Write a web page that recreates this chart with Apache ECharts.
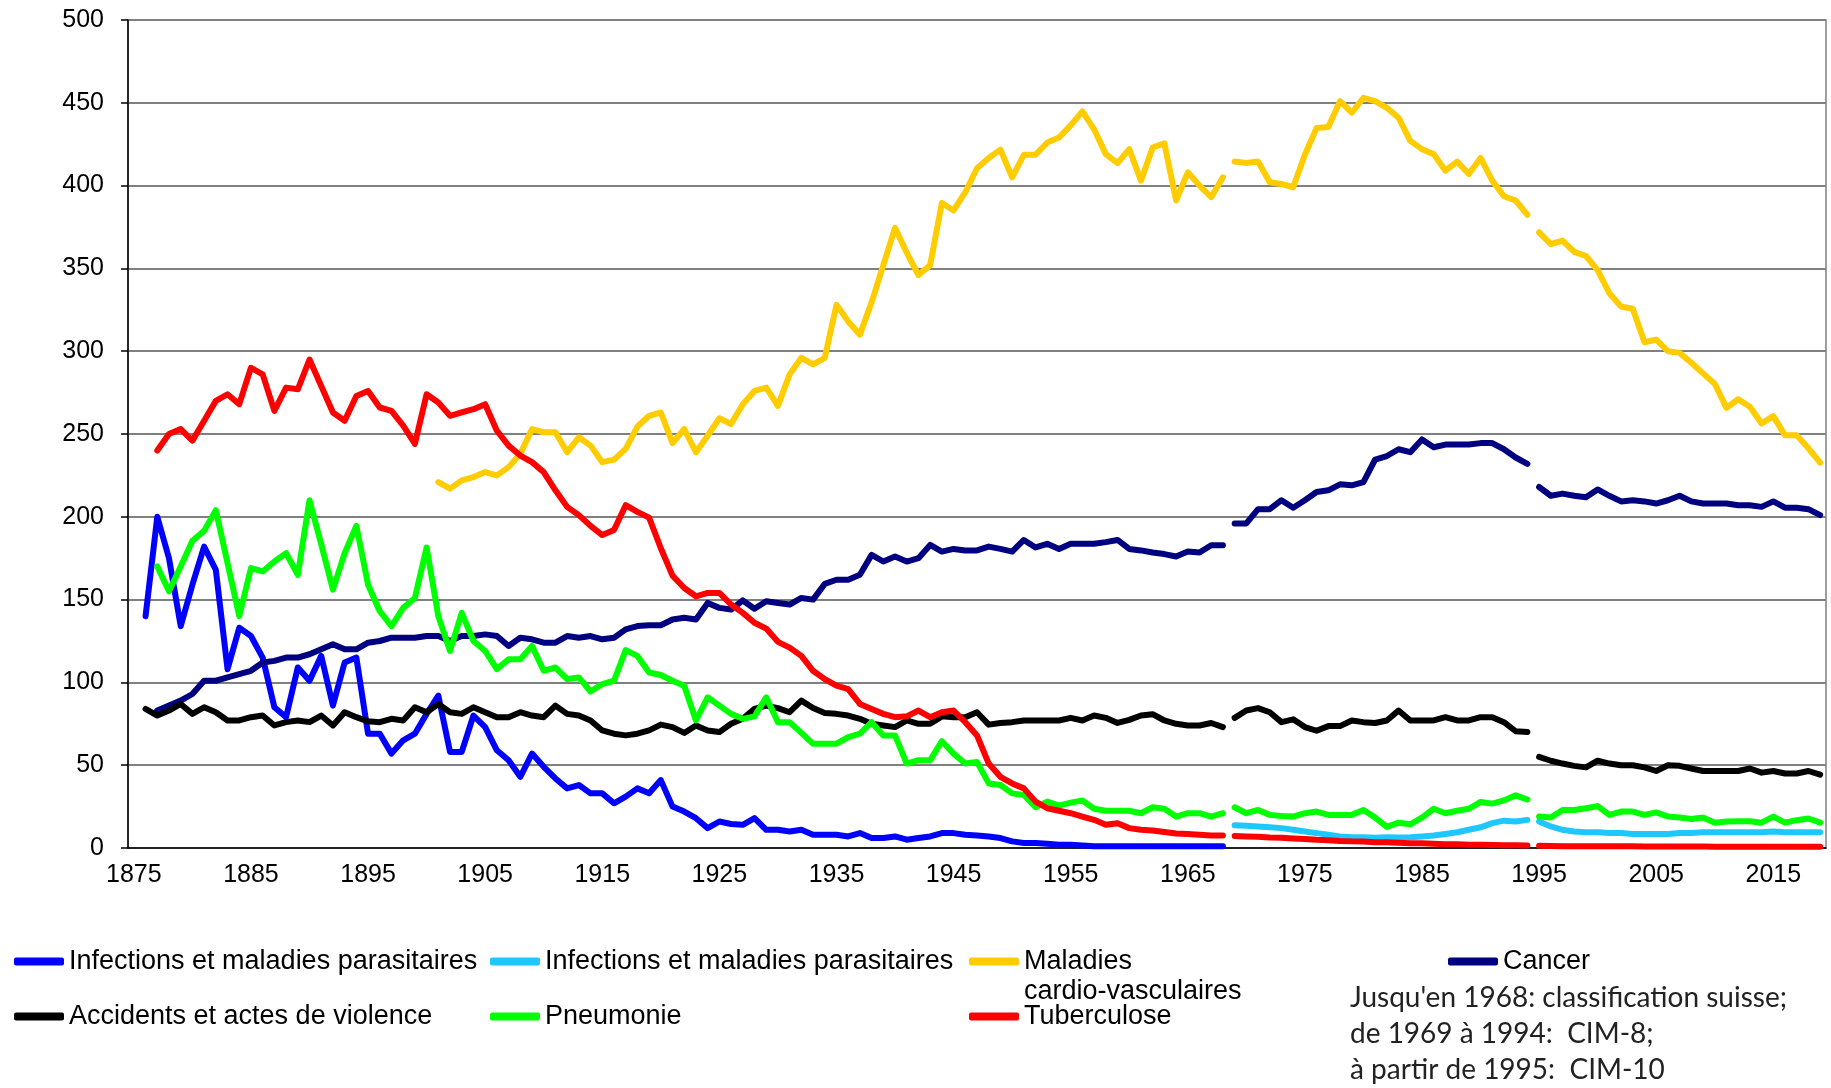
<!DOCTYPE html>
<html>
<head>
<meta charset="utf-8">
<script src="https://cdn.jsdelivr.net/npm/echarts@6.0.0/dist/echarts.min.js"></script>
<style>
  html, body { margin: 0; padding: 0; background: #fff; }
  #chart { width: 1831px; height: 1088px; }
</style>
</head>
<body>
<div id="chart"></div>
<script>
// categories: one per year, 1875..2019
var years = [];
for (var y = 1875; y <= 2019; y++) years.push(String(y));

// Infections et maladies parasitaires, classification suisse (1876-1968)
var infSuisse = [
  140, 200, 175, 134, 159, 182, 168, 108, 133, 128, 115, 85, 79, 109,
  101, 116, 86, 112, 115, 69, 69, 57, 65, 69, 81, 92, 58, 58, 80, 73,
  59, 53, 43, 57, 49, 42, 36, 38, 33, 33, 27, 31, 36, 33, 41, 25, 22,
  18, 12, 16, 14.5, 14, 18, 11, 11, 10, 11, 8, 8, 8, 7, 9, 6, 6, 7, 5,
  6, 7, 9, 9, 8, 7.5, 7, 6, 4, 3, 3, 2.5, 2, 2, 1.5, 1, 1, 1, 1, 1, 1,
  1, 1, 1, 1, 1, 1
];
// Infections et maladies parasitaires, CIM-8 (1969-1994) et CIM-10 (1995-2019)
var infCim8 = [13.8, 13.5, 13, 12.5, 12, 11, 10, 9, 8, 7, 6.5, 6.5, 6.2, 6.5, 6.3,
  6.5, 7, 7.5, 8.5, 9.5, 11, 12.5, 15, 16.5, 16, 17];
var infCim10 = [16, 13, 11, 10, 9.5, 9.5, 9, 9, 8.5, 8.5, 8.5, 8.5, 9, 9, 9.5,
  9.5, 9.5, 9.5, 9.5, 9.5, 10, 9.5, 9.5, 9.5, 9.5];

// Maladies cardio-vasculaires
var cardioSuisse = [ // 1901-1968
  221, 217, 222, 224, 227, 225, 230, 238, 253, 251, 251, 239, 248, 243,
  233, 234.5, 241, 254.5, 261, 263, 244.5, 253, 239, 249, 259.5, 256, 268,
  276, 278, 267, 286, 296, 292, 296, 328, 318, 310, 329.5, 352, 374.5,
  359.5, 346, 352, 389.5, 385, 396, 410.5, 416.7, 421.7, 405, 418.6, 418.6,
  426, 429, 436.4, 444.8, 434, 419, 413.6, 422, 403, 423, 425.5, 391, 408,
  400, 393, 405
];
var cardioCim8 = [414.5, 413.6, 414.5, 402, 401, 399, 418.6, 434.8, 435.4, 451,
  444, 453, 451, 447, 441, 427, 422, 419, 409, 414.5, 407, 416.7, 403, 393.6,
  391, 382.4];
var cardioCim10 = [371.8, 364.6, 366.8, 360, 357.5, 349, 335, 327, 325.6, 305.4,
  307, 300, 299, 293, 286.6, 280.4, 265.8, 271, 266.4, 256.4, 260.8, 249.2,
  249.2, 241.4, 232.7];

// Cancer
var cancerSuisse = [ // 1877-1968
  83, 86, 89, 93, 101, 101, 103, 105, 107, 112, 113, 115, 115, 117, 120,
  123, 120, 120, 124, 125, 127, 127, 127, 128, 128, 125, 128, 128, 129, 128,
  122, 127, 126, 124, 124, 128, 127, 128, 126, 127, 132, 134, 134.5, 134.5,
  138, 139, 138, 148, 145, 144, 149.5, 144.5, 149, 148, 147, 151, 150,
  159.5, 162, 162, 165, 177, 173, 176, 173, 175, 183, 179, 180.6, 179.7,
  179.7, 182, 180.6, 179, 186, 181.5, 183.7, 180.6, 183.7, 183.7, 183.7,
  184.7, 186, 180.6, 179.7, 178.4, 177.5, 176, 179, 178.4, 182.8, 182.8
];
var cancerCim8 = [196, 196, 204.6, 204.6, 210, 205.5, 210, 215, 216, 219.6, 219,
  221, 234.6, 236.7, 240.8, 239, 246.7, 242, 243.6, 243.6, 243.6, 244.5,
  244.5, 240.8, 235.8, 232];
var cancerCim10 = [218, 212.7, 214, 212.7, 211.8, 216.5, 212.7, 209.3, 210, 209.3,
  208, 210, 212.7, 209.3, 208, 208, 208, 207, 207, 206, 209.3, 205.5, 205.5,
  204.6, 201];

// Accidents et actes de violence
var accSuisse = [ // 1876-1968
  84, 80, 83, 87, 81, 85, 82, 77, 77, 79, 80, 74, 76, 77, 76, 80, 74, 82,
  79, 76.5, 76, 78, 77, 85, 82, 87, 82, 81, 85, 82, 79, 79, 82, 80, 79, 86,
  81, 80, 77, 71, 69, 68, 69, 71, 74.5, 73, 69.5, 74, 71, 70, 75, 78, 84,
  86, 84.5, 82, 89, 84.5, 81.5, 81, 80, 78, 75, 74, 73, 77, 75, 75, 79.5,
  79, 79, 82, 74.5, 75.5, 76, 77, 77, 77, 77, 78.6, 77, 80, 78.6, 75.5,
  77.4, 80, 80.8, 77, 75, 74, 74, 75.5, 73
];
var accCim8 = [78.6, 83, 84.5, 82, 76, 77.7, 73, 70.8, 73.6, 73.6, 77, 76, 75.5,
  77, 83, 77, 77, 77, 79, 77, 77, 79, 79, 76, 70.5, 70];
var accCim10 = [55, 52.7, 51, 49.6, 48.7, 52.7, 51, 50, 50, 48.7, 46.5, 50, 49.6,
  48, 46.5, 46.5, 46.5, 46.5, 48, 45.5, 46.5, 45, 45, 46.5, 44.3];

// Pneumonie
var pneuSuisse = [ // 1877-1968
  170, 155, 170, 185.5, 191.5, 204, 172, 140, 169, 167, 173, 178, 165, 210,
  183.5, 156, 178, 194.5, 159, 143, 134, 145, 151, 181.5, 140, 119, 142,
  125, 119, 108, 114, 114, 122, 107, 109, 102, 103, 94.5, 99, 101, 119.5,
  116, 106, 104.5, 101, 98, 77, 91, 86, 81, 78, 79.5, 91, 76, 76, 69.5, 63,
  63, 63, 67, 69, 76, 68, 68, 51, 53, 53, 64.5, 57, 51, 52, 39, 38, 33, 32,
  24.6, 28, 25.6, 27.4, 28.7, 23.7, 22.5, 22.5, 22.5, 21, 24.6, 23.7, 19,
  21, 21, 19, 21
];
var pneuCim8 = [24.6, 21, 23, 20, 19.3, 19, 21, 22, 20, 20, 20, 23, 18.4, 12.8,
  15.3, 14.3, 18.4, 23.7, 21, 22.5, 23.7, 27.8, 26.8, 28.7, 31.8, 29.3];
var pneuCim10 = [19, 18.4, 23, 23, 24, 25.3, 20, 22, 22, 20, 21.5, 19, 18.4, 17.5,
  18.4, 15.3, 16, 16.2, 16.2, 15.3, 19, 15.3, 16.8, 17.8, 15.3];

// Tuberculose
var tbSuisse = [ // 1877-1968
  240, 250, 253, 246, 258, 270, 274, 268, 290, 286, 264, 278, 277, 295,
  279, 263, 258, 273, 276, 266, 264, 255, 244, 274, 269, 261, 263, 265, 268,
  252, 243, 237, 233, 227, 216, 206, 201, 194.5, 189, 192, 207, 203, 199.5,
  181, 164.5, 157, 152, 154, 154, 147, 142, 136, 132.5, 124.5, 121, 116,
  107, 102, 98, 96, 87, 84, 81, 79, 79.5, 83, 79, 82, 83, 76, 68, 51, 43,
  39, 36, 28, 24, 22.5, 21, 19, 17, 14, 15, 12, 11, 10.6, 9.7, 8.7, 8.4, 8,
  7.5, 7.5
];
var tbCim8 = [7.3, 7, 6.8, 6.4, 6.2, 5.8, 5.5, 5, 4.7, 4.2, 4, 3.9, 3.5, 3.4, 3.2,
  2.9, 2.8, 2.6, 2.3, 2.2, 2, 1.9, 1.8, 1.7, 1.6, 1.5];
var tbCim10 = [1.3, 1.2, 1.1, 1.1, 1, 1, 1, 1, 1, 0.9, 0.9, 0.9, 0.9, 0.9, 0.9, 0.8,
  0.8, 0.8, 0.8, 0.8, 0.8, 0.8, 0.8, 0.7, 0.7];

var NAME_INF = "Infections et maladies parasitaires";
var NAME_INF2 = "Infections et maladies parasitaires (CIM)";
var NAME_CARDIO = "Maladies cardio-vasculaires";
var NAME_CANCER = "Cancer";
var NAME_ACC = "Accidents et actes de violence";
var NAME_PNEU = "Pneumonie";
var NAME_TB = "Tuberculose";

var font = "'Liberation Sans', Arial, sans-serif";

function seg(start, values) {
  return values.map(function (v, i) { return [String(start + i), v]; });
}

function line(name, color, start, values) {
  return {
    name: name,
    type: "line",
    data: seg(start, values),
    symbol: "none",
    showSymbol: false,
    silent: true,
    itemStyle: { color: color },
    lineStyle: { color: color, width: 6, cap: "round", join: "round" }
  };
}

function legend(name, left, top, label) {
  return {
    data: [name],
    left: left,
    top: top,
    icon: "roundRect",
    itemWidth: 50,
    itemHeight: 8,
    selectedMode: false,
    formatter: function () { return label || name; },
    textStyle: { fontSize: 27, fontFamily: font, color: "#000" }
  };
}

var series = [
  line(NAME_INF, "#0000ff", 1876, infSuisse),
  line(NAME_INF2, "#1ec8ff", 1969, infCim8),
  line(NAME_INF2, "#1ec8ff", 1995, infCim10),
  line(NAME_CARDIO, "#ffcc00", 1901, cardioSuisse),
  line(NAME_CARDIO, "#ffcc00", 1969, cardioCim8),
  line(NAME_CARDIO, "#ffcc00", 1995, cardioCim10),
  line(NAME_CANCER, "#000080", 1877, cancerSuisse),
  line(NAME_CANCER, "#000080", 1969, cancerCim8),
  line(NAME_CANCER, "#000080", 1995, cancerCim10),
  line(NAME_ACC, "#000000", 1876, accSuisse),
  line(NAME_ACC, "#000000", 1969, accCim8),
  line(NAME_ACC, "#000000", 1995, accCim10),
  line(NAME_PNEU, "#00ff00", 1877, pneuSuisse),
  line(NAME_PNEU, "#00ff00", 1969, pneuCim8),
  line(NAME_PNEU, "#00ff00", 1995, pneuCim10),
  line(NAME_TB, "#ff0000", 1877, tbSuisse),
  line(NAME_TB, "#ff0000", 1969, tbCim8),
  line(NAME_TB, "#ff0000", 1995, tbCim10)
];

var chart = echarts.init(document.getElementById("chart"));
chart.setOption({
  animation: false,
  backgroundColor: "#fff",
  grid: {
    left: 128, top: 20, width: 1698, height: 828,
    show: true, borderColor: "#808080", borderWidth: 1.5
  },
  xAxis: {
    type: "category",
    data: years,
    boundaryGap: true,
    axisLine: { lineStyle: { color: "#000", width: 1.5 } },
    axisTick: { interval: 9, length: 7, lineStyle: { color: "#000", width: 1.5 } },
    axisLabel: { interval: 9, fontSize: 25, fontFamily: font, color: "#000", margin: 15 },
    splitLine: { show: false }
  },
  yAxis: {
    type: "value",
    min: 0,
    max: 500,
    interval: 50,
    axisLine: { show: true, lineStyle: { color: "#000", width: 1.5 } },
    axisTick: { show: true, length: 7, lineStyle: { color: "#000", width: 1.5 } },
    axisLabel: { fontSize: 25, fontFamily: font, color: "#000", margin: 24 },
    splitLine: { lineStyle: { color: "#808080", width: 2 } }
  },
  legend: [
    legend(NAME_INF, 9, 943),
    legend(NAME_INF2, 485, 943, NAME_INF),
    legend(NAME_CARDIO, 964, 943, "Maladies"),
    legend(NAME_CANCER, 1443, 943),
    legend(NAME_ACC, 9, 998),
    legend(NAME_PNEU, 485, 998),
    legend(NAME_TB, 964, 998)
  ],
  graphic: [
    {
      type: "text", x: 1024, y: 992,
      style: { text: "cardio-vasculaires", font: "27px " + font, fill: "#000", verticalAlign: "middle" }
    },
    {
      type: "text", x: 1350, y: 980,
      style: {
        text: "Jusqu'en 1968: classification suisse;\nde 1969 à 1994:  CIM-8;\nà partir de 1995:  CIM-10",
        font: "28px Lato, 'Open Sans', sans-serif", fill: "#222", lineHeight: 36, verticalAlign: "top"
      }
    }
  ],
  series: series
});
</script>
</body>
</html>
